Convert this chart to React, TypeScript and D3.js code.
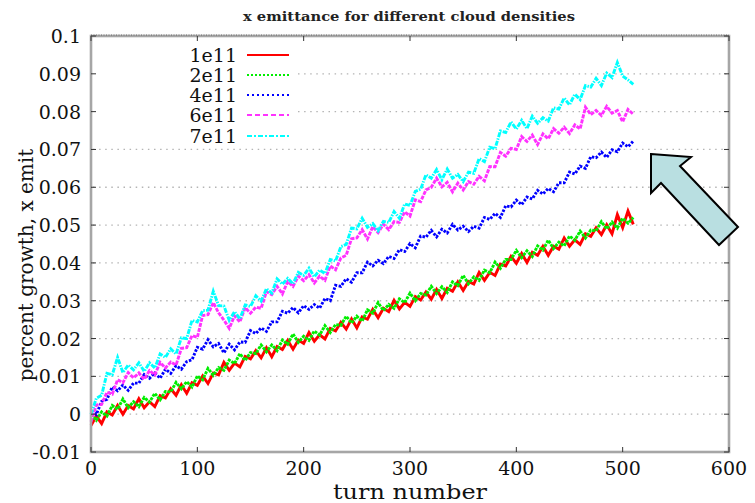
import React from "react";
import * as d3 from "d3";

// Emittance growth sampled every 5 turns, turn 0 .. 510
const TURN_STEP = 5;

const growth1e11 = [
  -0.0030, -0.0005, -0.0025, 0.0006, -0.0002, 0.0023, 0.0000, 0.0023, 0.0014, 0.0041,
  0.0017, 0.0033, 0.0020, 0.0049, 0.0043, 0.0067, 0.0050, 0.0078, 0.0055, 0.0083,
  0.0076, 0.0101, 0.0081, 0.0109, 0.0104, 0.0137, 0.0116, 0.0135, 0.0125, 0.0153,
  0.0146, 0.0168, 0.0149, 0.0176, 0.0152, 0.0179, 0.0171, 0.0195, 0.0172, 0.0196,
  0.0187, 0.0216, 0.0193, 0.0210, 0.0199, 0.0227, 0.0220, 0.0243, 0.0225, 0.0252,
  0.0228, 0.0257, 0.0251, 0.0277, 0.0255, 0.0280, 0.0271, 0.0301, 0.0278, 0.0296,
  0.0285, 0.0311, 0.0302, 0.0323, 0.0304, 0.0330, 0.0306, 0.0333, 0.0325, 0.0350,
  0.0327, 0.0351, 0.0344, 0.0375, 0.0354, 0.0375, 0.0367, 0.0397, 0.0392, 0.0417,
  0.0399, 0.0425, 0.0401, 0.0428, 0.0420, 0.0444, 0.0420, 0.0444, 0.0436, 0.0466,
  0.0444, 0.0461, 0.0449, 0.0477, 0.0470, 0.0493, 0.0475, 0.0501, 0.0477, 0.0528,
  0.0493, 0.0537, 0.0502,
];

const growth2e11 = [
  0.0000, -0.0016, 0.0006, -0.0005, 0.0023, 0.0013, 0.0040, 0.0017, 0.0033, 0.0020,
  0.0044, 0.0032, 0.0055, 0.0038, 0.0060, 0.0059, 0.0084, 0.0067, 0.0086, 0.0072,
  0.0101, 0.0091, 0.0121, 0.0103, 0.0123, 0.0116, 0.0143, 0.0134, 0.0160, 0.0142,
  0.0163, 0.0160, 0.0183, 0.0165, 0.0183, 0.0168, 0.0196, 0.0185, 0.0212, 0.0190,
  0.0206, 0.0195, 0.0220, 0.0209, 0.0234, 0.0216, 0.0237, 0.0235, 0.0259, 0.0241,
  0.0259, 0.0246, 0.0276, 0.0267, 0.0295, 0.0274, 0.0290, 0.0280, 0.0305, 0.0295,
  0.0320, 0.0300, 0.0319, 0.0315, 0.0338, 0.0319, 0.0337, 0.0322, 0.0350, 0.0340,
  0.0367, 0.0345, 0.0363, 0.0354, 0.0381, 0.0374, 0.0402, 0.0386, 0.0409, 0.0409,
  0.0433, 0.0414, 0.0432, 0.0417, 0.0445, 0.0434, 0.0460, 0.0438, 0.0455, 0.0445,
  0.0471, 0.0460, 0.0484, 0.0466, 0.0487, 0.0485, 0.0509, 0.0490, 0.0508, 0.0492,
  0.0518, 0.0505, 0.0520,
];

const growth4e11 = [
  0.0008, -0.0001, 0.0034, 0.0039, 0.0072, 0.0062, 0.0077, 0.0063, 0.0082, 0.0082,
  0.0105, 0.0095, 0.0109, 0.0095, 0.0119, 0.0108, 0.0128, 0.0119, 0.0139, 0.0144,
  0.0177, 0.0172, 0.0197, 0.0178, 0.0187, 0.0162, 0.0185, 0.0170, 0.0191, 0.0190,
  0.0221, 0.0213, 0.0228, 0.0219, 0.0244, 0.0244, 0.0272, 0.0267, 0.0282, 0.0268,
  0.0287, 0.0277, 0.0290, 0.0280, 0.0306, 0.0300, 0.0341, 0.0338, 0.0358, 0.0349,
  0.0374, 0.0374, 0.0402, 0.0392, 0.0407, 0.0398, 0.0417, 0.0412, 0.0435, 0.0430,
  0.0451, 0.0440, 0.0471, 0.0468, 0.0486, 0.0469, 0.0489, 0.0479, 0.0502, 0.0487,
  0.0497, 0.0483, 0.0497, 0.0492, 0.0520, 0.0515, 0.0531, 0.0520, 0.0551, 0.0548,
  0.0566, 0.0554, 0.0574, 0.0569, 0.0592, 0.0582, 0.0597, 0.0588, 0.0612, 0.0612,
  0.0640, 0.0635, 0.0656, 0.0650, 0.0681, 0.0678, 0.0693, 0.0679, 0.0699, 0.0694,
  0.0717, 0.0707, 0.0722,
];

const growth6e11 = [
  -0.0020, 0.0024, 0.0026, 0.0058, 0.0053, 0.0091, 0.0083, 0.0110, 0.0096, 0.0109,
  0.0092, 0.0115, 0.0104, 0.0137, 0.0122, 0.0138, 0.0130, 0.0174, 0.0176, 0.0208,
  0.0203, 0.0261, 0.0263, 0.0295, 0.0268, 0.0249, 0.0227, 0.0260, 0.0244, 0.0282,
  0.0267, 0.0283, 0.0280, 0.0324, 0.0316, 0.0338, 0.0318, 0.0351, 0.0338, 0.0365,
  0.0353, 0.0369, 0.0347, 0.0365, 0.0354, 0.0392, 0.0382, 0.0413, 0.0420, 0.0464,
  0.0466, 0.0488, 0.0463, 0.0496, 0.0480, 0.0502, 0.0488, 0.0509, 0.0507, 0.0535,
  0.0524, 0.0567, 0.0562, 0.0593, 0.0600, 0.0624, 0.0601, 0.0613, 0.0588, 0.0611,
  0.0593, 0.0615, 0.0608, 0.0629, 0.0617, 0.0655, 0.0654, 0.0692, 0.0682, 0.0703,
  0.0700, 0.0734, 0.0721, 0.0738, 0.0713, 0.0741, 0.0728, 0.0755, 0.0743, 0.0759,
  0.0742, 0.0765, 0.0754, 0.0812, 0.0792, 0.0803, 0.0790, 0.0814, 0.0796, 0.0803,
  0.0773, 0.0806, 0.0793,
];

const growth7e11 = [
  0.0000, 0.0042, 0.0050, 0.0108, 0.0104, 0.0150, 0.0110, 0.0130, 0.0117, 0.0136,
  0.0113, 0.0136, 0.0122, 0.0159, 0.0150, 0.0173, 0.0159, 0.0202, 0.0200, 0.0248,
  0.0244, 0.0274, 0.0275, 0.0325, 0.0287, 0.0286, 0.0248, 0.0271, 0.0252, 0.0289,
  0.0285, 0.0313, 0.0299, 0.0332, 0.0320, 0.0358, 0.0344, 0.0359, 0.0345, 0.0375,
  0.0367, 0.0386, 0.0363, 0.0381, 0.0372, 0.0409, 0.0405, 0.0443, 0.0449, 0.0492,
  0.0490, 0.0518, 0.0494, 0.0504, 0.0485, 0.0510, 0.0507, 0.0536, 0.0518, 0.0556,
  0.0552, 0.0589, 0.0595, 0.0633, 0.0624, 0.0647, 0.0620, 0.0648, 0.0624, 0.0634,
  0.0615, 0.0640, 0.0637, 0.0676, 0.0668, 0.0706, 0.0702, 0.0749, 0.0745, 0.0773,
  0.0754, 0.0777, 0.0755, 0.0788, 0.0769, 0.0784, 0.0775, 0.0810, 0.0807, 0.0836,
  0.0818, 0.0846, 0.0832, 0.0869, 0.0865, 0.0888, 0.0869, 0.0902, 0.0890, 0.0930,
  0.0894, 0.0884, 0.0872,
];

const seriesNames = ["1e11", "2e11", "4e11", "6e11", "7e11"];
const seriesColors = ["#ff0000", "#00ee00", "#0000ff", "#ff33ff", "#00ffff"];
const seriesDashes = ["none", "3,1", "2.5,1.5", "4,1.2", "5,1.2,1.5,1.2"];
const legendDashes = ["none", "2,2", "2,3", "5,3", "5,2,2,2"];
const seriesValues = [growth1e11, growth2e11, growth4e11, growth6e11, growth7e11];

const xTicks = [0, 100, 200, 300, 400, 500, 600];
const yTicks = [-0.01, 0, 0.01, 0.02, 0.03, 0.04, 0.05, 0.06, 0.07, 0.08, 0.09, 0.1];
const yTickLabels = ["-0.01", "0", "0.01", "0.02", "0.03", "0.04", "0.05", "0.06", "0.07", "0.08", "0.09", "0.1"];

const W = 755;
const H = 503;
const L = 91, R = 729, T = 36, B = 452;
const FONT = "'DejaVu Serif', 'Liberation Serif', serif";

export default function App() {
  const x = d3.scaleLinear().domain([0, 600]).range([L, R]);
  const y = d3.scaleLinear().domain([-0.01, 0.1]).range([B, T]);

  const line = d3
    .line<number>()
    .x((_, i) => x(i * TURN_STEP))
    .y((v) => y(v));

  // key box area covers the gridlines behind it
  const keyRight = 298;
  const keyTop = 42;
  const keyBottom = 146;
  const keyRows = [55, 75, 95, 115, 136];

  return (
    <svg
      width={W}
      height={H}
      style={{ position: "absolute", left: 0, top: 0, background: "#fff" }}
      fontFamily={FONT}
    >
      <defs>
        <filter id="soft" x="-5%" y="-5%" width="110%" height="110%">
          <feGaussianBlur stdDeviation="0.55" />
        </filter>
      </defs>

      {/* horizontal dotted grid */}
      {yTicks
        .filter((t) => t > -0.005 && t < 0.095)
        .map((t) => {
          const yy = y(t);
          const inKey = yy > keyTop && yy < keyBottom;
          return (
            <line
              key={"g" + t}
              x1={inKey ? keyRight : L + 2}
              x2={R - 2}
              y1={yy}
              y2={yy}
              stroke="#b4b4b4"
              strokeWidth={1.3}
              strokeDasharray="1.5,4.6"
            />
          );
        })}

      {/* data */}
      <g filter="url(#soft)">
        {seriesValues.map((vals, i) => (
          <path
            key={seriesNames[i]}
            d={line(vals) || ""}
            fill="none"
            stroke={seriesColors[i]}
            strokeWidth={2.9}
            strokeDasharray={seriesDashes[i] === "none" ? undefined : seriesDashes[i]}
            strokeLinejoin="miter"
            strokeMiterlimit={6}
          />
        ))}
      </g>

      {/* frame */}
      <rect x={L} y={T} width={R - L} height={B - T} fill="none" stroke="#a6a6a6" strokeWidth={2.6} />
      <line x1={L} x2={R} y1={T - 1} y2={T - 1} stroke="#555" strokeWidth={0.8} strokeDasharray="1,1.5" />

      {/* ticks */}
      {xTicks.map((t) => (
        <g key={"xt" + t}>
          <line x1={x(t)} x2={x(t)} y1={B} y2={B - 5} stroke="#333" strokeWidth={1} />
          <line x1={x(t)} x2={x(t)} y1={T} y2={T + 5} stroke="#333" strokeWidth={1} />
          <text x={x(t)} y={B + 23} textAnchor="middle" fontSize={19} fill="#111">
            {t}
          </text>
        </g>
      ))}
      {yTicks.map((t, i) => (
        <g key={"yt" + t}>
          <line x1={L} x2={L + 5} y1={y(t)} y2={y(t)} stroke="#333" strokeWidth={1} />
          <line x1={R} x2={R - 5} y1={y(t)} y2={y(t)} stroke="#333" strokeWidth={1} />
          <text x={L - 10} y={y(t) + 7} textAnchor="end" fontSize={19} fill="#111">
            {yTickLabels[i]}
          </text>
        </g>
      ))}

      {/* key */}
      {seriesNames.map((n, i) => (
        <g key={"k" + n}>
          <text x={237} y={keyRows[i] + 7} textAnchor="end" fontSize={19} fill="#111">
            {n}
          </text>
          <line
            x1={247}
            x2={289}
            y1={keyRows[i]}
            y2={keyRows[i]}
            stroke={seriesColors[i]}
            strokeWidth={1.8}
            strokeDasharray={legendDashes[i] === "none" ? undefined : legendDashes[i]}
          />
        </g>
      ))}

      {/* titles */}
      <text x={409} y={21} textAnchor="middle" fontSize={13} fontWeight="bold" fill="#222" textLength={332} lengthAdjust="spacingAndGlyphs">
        x emittance for different cloud densities
      </text>
      <text x={410} y={499} textAnchor="middle" fontSize={21} fill="#111" textLength={154} lengthAdjust="spacingAndGlyphs">
        turn number
      </text>
      <text
        transform={`translate(33, ${(380 + 150) / 2}) rotate(-90)`}
        textAnchor="middle"
        fontSize={20}
        fill="#111"
      >
        percent growth, x emit
      </text>

      {/* arrow */}
      <polygon
        points="651,154 691,157 680,166 738,227 719,245 661,183 651,193"
        fill="#b9dfe1"
        stroke="#000"
        strokeWidth={2}
        strokeLinejoin="miter"
      />
    </svg>
  );
}
